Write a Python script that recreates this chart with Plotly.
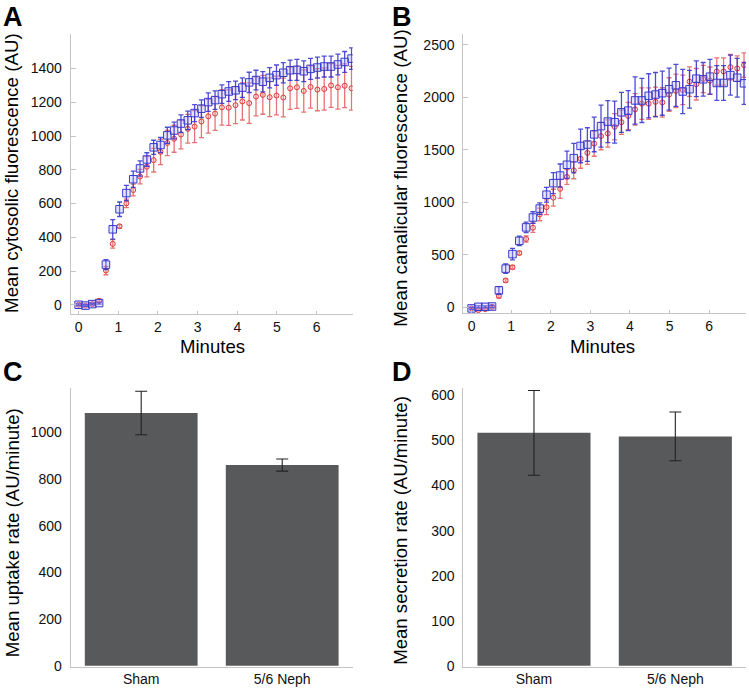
import plotly.graph_objects as go

# ---------------- data ----------------
dt = 0.172  # minutes between frames
minutes = [round(i * dt, 3) for i in range(41)]

a_sham = [0, -5, 4, 10, 238, 447, 566, 662, 744, 808, 861, 933, 947, 1004, 1033, 1074, 1093,
          1136, 1162, 1201, 1213, 1248, 1264, 1271, 1287, 1318, 1332, 1322, 1345, 1361, 1375,
          1390, 1392, 1384, 1398, 1406, 1412, 1412, 1424, 1439, 1459]
a_sham_err = [5, 5, 5, 6, 30, 58, 43, 45, 48, 45, 40, 42, 45, 48, 50, 52, 55, 50, 52, 55, 55,
              55, 58, 55, 58, 60, 58, 60, 60, 60, 60, 60, 62, 62, 62, 62, 62, 62, 62, 62, 64]
a_neph = [0, -5, 4, 23, 203, 361, 465, 601, 680, 760, 818, 857, 906, 959, 984, 1009, 1043,
          1056, 1086, 1117, 1133, 1170, 1168, 1183, 1205, 1195, 1234, 1244, 1230, 1240, 1228,
          1283, 1289, 1267, 1291, 1275, 1279, 1300, 1289, 1298, 1283]
a_neph_err = [5, 5, 5, 10, 25, 25, 10, 25, 35, 43, 60, 70, 75, 75, 80, 85, 85, 95, 95, 100, 100,
              105, 105, 110, 110, 120, 115, 115, 115, 115, 115, 125, 125, 125, 125, 125, 125,
              130, 130, 130, 130]

b_sham = [-9, 6, 6, 9, 163, 370, 508, 634, 762, 856, 941, 1073, 1183, 1255, 1358, 1421, 1537,
          1550, 1647, 1725, 1769, 1763, 1857, 1873, 1970, 1970, 2014, 2026, 2039, 2077, 2114,
          2055, 2077, 2177, 2171, 2196, 2136, 2136, 2211, 2186, 2133]
b_sham_err = [10, 10, 10, 10, 35, 45, 55, 45, 50, 55, 55, 70, 100, 110, 130, 140, 160, 160, 165,
              200, 200, 200, 190, 190, 225, 210, 210, 210, 210, 200, 200, 210, 180, 170, 160,
              165, 165, 165, 190, 185, 200]
b_neph = [-9, -25, -16, 6, 110, 257, 383, 518, 652, 759, 885, 954, 1045, 1129, 1242, 1305, 1415,
          1471, 1559, 1631, 1656, 1719, 1763, 1822, 1885, 1939, 1939, 1957, 1951, 2026, 2061,
          2070, 2149, 2124, 2174, 2158, 2246, 2246, 2287, 2274, 2306]
b_neph_err = [8, 8, 8, 8, 20, 15, 15, 15, 30, 45, 60, 70, 80, 90, 70, 80, 90, 110, 120, 130, 130,
              125, 115, 130, 150, 150, 150, 140, 140, 160, 160, 140, 140, 150, 130, 130, 130,
              130, 120, 120, 116]

groups = ["Sham", "5/6 Neph"]
uptake = [1082, 859]
uptake_err = [93, 26]
secretion = [517, 509]
secretion_err = [94, 54]

# ---------------- style ----------------
FONT = "Liberation Sans, Arial, Helvetica, sans-serif"
AXC = "#c4c4c4"
BLUE = "#3838cc"
RED = "#dd3b3b"
BAR = "#58595b"
W, H = 749, 693


def px_x(x0, x1):
    return [x0 / W, x1 / W]


def px_y(top, bottom):
    return [1 - bottom / H, 1 - top / H]


fig = go.Figure()


def add_series(xa, ya, sham, sham_err, neph, neph_err):
    fig.add_trace(go.Scatter(
        x=minutes, y=neph, mode="markers", xaxis=xa, yaxis=ya, showlegend=False,
        marker=dict(symbol="circle", size=5, color="rgba(255,170,170,0.35)",
                    line=dict(color=RED, width=1)),
        error_y=dict(type="data", array=neph_err, visible=True, color="rgba(220,55,55,0.7)",
                     thickness=1.3, width=2.5)))
    fig.add_trace(go.Scatter(
        x=minutes, y=sham, mode="markers", xaxis=xa, yaxis=ya, showlegend=False,
        marker=dict(symbol="square", size=7.5, color="rgba(170,170,255,0.3)",
                    line=dict(color=BLUE, width=1)),
        error_y=dict(type="data", array=sham_err, visible=True, color="rgba(45,45,205,0.85)",
                     thickness=1.3, width=2.5)))


add_series("x", "y", a_sham, a_sham_err, a_neph, a_neph_err)
add_series("x2", "y2", b_sham, b_sham_err, b_neph, b_neph_err)

fig.add_trace(go.Bar(x=groups, y=uptake, xaxis="x3", yaxis="y3", showlegend=False,
                     marker=dict(color=BAR, line=dict(width=0)),
                     error_y=dict(type="data", array=uptake_err, color="#222", thickness=1.1,
                                  width=6)))
fig.add_trace(go.Bar(x=groups, y=secretion, xaxis="x4", yaxis="y4", showlegend=False,
                     marker=dict(color=BAR, line=dict(width=0)),
                     error_y=dict(type="data", array=secretion_err, color="#222", thickness=1.1,
                                  width=6)))

tickfont = dict(family=FONT, size=14, color="#111")
common = dict(showgrid=False, zeroline=False, showline=True, linecolor=AXC, linewidth=1,
              tickfont=tickfont)

fig.update_layout(
    width=W, height=H, margin=dict(l=0, r=0, t=0, b=0),
    paper_bgcolor="white", plot_bgcolor="white", bargap=0.2,
    font=dict(family=FONT, color="#111"),
    xaxis=dict(domain=px_x(70.7, 352.7), range=[-0.2, 6.91], anchor="y",
               tickvals=[0, 1, 2, 3, 4, 5, 6], ticks="inside", ticklen=3, tickcolor=AXC, **common),
    yaxis=dict(domain=px_y(33, 316.7), range=[-55, 1607], anchor="x",
               tickvals=[0, 200, 400, 600, 800, 1000, 1200, 1400], ticks="inside", ticklen=5,
               tickcolor=AXC, ticklabelstandoff=5, **common),
    xaxis2=dict(domain=px_x(463.3, 746), range=[-0.21, 6.93], anchor="y2",
                tickvals=[0, 1, 2, 3, 4, 5, 6], ticks="inside", ticklen=3, tickcolor=AXC, **common),
    yaxis2=dict(domain=px_y(33.3, 316), range=[-56, 2603], anchor="x2",
                tickvals=[0, 500, 1000, 1500, 2000, 2500], ticks="inside", ticklen=5,
                tickcolor=AXC, ticklabelstandoff=5, **common),
    xaxis3=dict(domain=px_x(70.7, 352.7), range=[-0.5, 1.5], anchor="y3", ticks="", **common),
    yaxis3=dict(domain=px_y(391.7, 673.3), range=[-3, 1188], anchor="x3",
                tickvals=[0, 200, 400, 600, 800, 1000], ticks="", ticklabelstandoff=5, **common),
    xaxis4=dict(domain=px_x(463.3, 746), range=[-0.5, 1.5], anchor="y4", ticks="", **common),
    yaxis4=dict(domain=px_y(391.7, 673.3), range=[-1.5, 616], anchor="x4",
                tickvals=[0, 100, 200, 300, 400, 500, 600], ticks="", ticklabelstandoff=5,
                **common),
)

ann = []


def label(text, x, y, size, angle=0, bold=False, yanchor="middle"):
    ann.append(dict(text=f"<b>{text}</b>" if bold else text, x=x / W, y=1 - y / H,
                    xref="paper", yref="paper", showarrow=False, textangle=angle,
                    xanchor="center", yanchor=yanchor, borderpad=0,
                    font=dict(family=FONT, size=size, color="#000")))


# panel letters (box top placed just at the panel's top edge)
label("A", 13, 0, 27, bold=True, yanchor="top")
label("B", 402, 0, 27, bold=True, yanchor="top")
label("C", 13, 359, 27, bold=True, yanchor="top")
label("D", 402, 359, 27, bold=True, yanchor="top")

# axis titles
label("Mean cytosolic fluorescence (AU)", 12, 174, 18.8, angle=-90)
label("Mean canalicular fluorescence (AU)", 400.7, 179, 18.8, angle=-90)
label("Mean uptake rate (AU/minute)", 12.5, 538, 18.6, angle=-90)
label("Mean secretion rate (AU/minute)", 401, 536, 18.6, angle=-90)
label("Minutes", 212.5, 350, 18.6)
label("Minutes", 602.5, 350, 18.6)

fig.update_layout(annotations=ann)
# remove the browser's default 8px body margin so the figure fills the window
fig.write_html("out.html", config={"displayModeBar": False},
               post_script="document.body.style.margin='0';")
